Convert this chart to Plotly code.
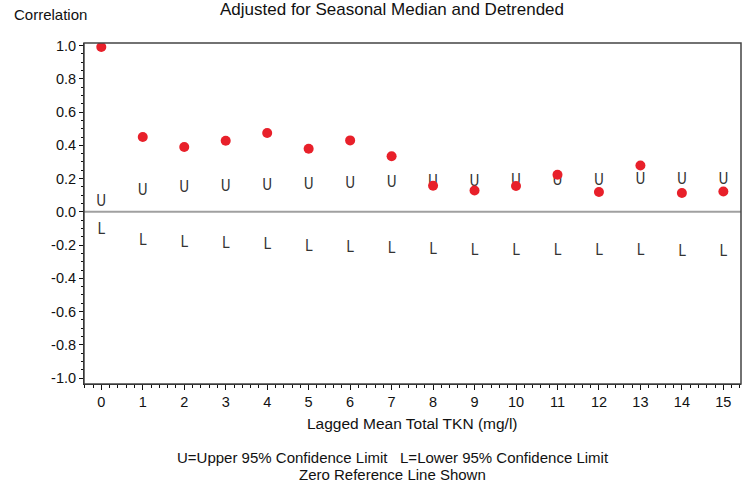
import plotly.graph_objects as go

lags = list(range(16))
correlation = [0.992, 0.45, 0.39, 0.428, 0.474, 0.38, 0.43, 0.335, 0.157, 0.128, 0.155, 0.223, 0.119, 0.279, 0.113, 0.122]
upper95 = [0.06, 0.126, 0.139, 0.145, 0.155, 0.161, 0.167, 0.173, 0.178, 0.181, 0.183, 0.185, 0.186, 0.188, 0.19, 0.193]
lower95 = [-0.113, -0.179, -0.187, -0.193, -0.2, -0.211, -0.219, -0.227, -0.233, -0.235, -0.237, -0.238, -0.239, -0.24, -0.243, -0.245]
y_ticks = [-1.0, -0.8, -0.6, -0.4, -0.2, 0.0, 0.2, 0.4, 0.6, 0.8, 1.0]
y_tick_labels = ["-1.0", "-0.8", "-0.6", "-0.4", "-0.2", "0.0", "0.2", "0.4", "0.6", "0.8", "1.0"]

FONT = "Liberation Sans, Arial, sans-serif"
GLYPH_FONT = "Liberation Sans Narrow, DejaVu Sans Condensed, Liberation Sans, sans-serif"

fig = go.Figure()

fig.add_trace(go.Scatter(
    x=lags, y=upper95, mode="text", text=["U"] * len(lags),
    textposition="middle center",
    textfont=dict(family=GLYPH_FONT, size=15, color="#333333"),
    hoverinfo="skip", showlegend=False,
))
fig.add_trace(go.Scatter(
    x=lags, y=lower95, mode="text", text=["L"] * len(lags),
    textposition="middle center",
    textfont=dict(family=GLYPH_FONT, size=15, color="#333333"),
    hoverinfo="skip", showlegend=False,
))
fig.add_trace(go.Scatter(
    x=lags, y=correlation, mode="markers",
    marker=dict(color="#e8202a", size=10, line=dict(width=0)),
    showlegend=False,
))

fig.add_hline(y=0, line=dict(color="#a0a0a0", width=2), layer="below")

fig.update_layout(
    width=751, height=485,
    margin=dict(l=84, r=10, t=43, b=101),
    paper_bgcolor="white", plot_bgcolor="white",
    font=dict(family=FONT, size=14.5, color="#111111"),
    xaxis=dict(
        range=[-0.417, 15.425], tickmode="array", tickvals=lags,
        ticktext=[str(v) for v in lags],
        ticks="outside", ticklen=5, tickwidth=1, tickcolor="#111111",
        showline=True, linecolor="#111111", linewidth=1, mirror=False,
        showgrid=False, zeroline=False,
        minor=dict(dtick=0.2, ticks="outside", ticklen=3, tickcolor="#111111", showgrid=False),
        tickfont=dict(size=14.5),
    ),
    yaxis=dict(
        range=[-1.036, 1.016], tickmode="array", tickvals=y_ticks, ticktext=y_tick_labels,
        ticks="outside", ticklen=4, tickwidth=1, tickcolor="#111111",
        showline=True, linecolor="#111111", linewidth=1, mirror=False,
        showgrid=False, zeroline=False,
        minor=dict(dtick=0.05, tick0=0, ticks="outside", ticklen=2, tickcolor="#111111", showgrid=False),
        tickfont=dict(size=14.5),
    ),
)

fig.add_shape(type="rect", xref="paper", yref="paper", x0=0, x1=1, y0=0, y1=1,
              line=dict(color="#444444", width=1.5), layer="above")

def ann(text, x, y, xanchor="center", size=15):
    fig.add_annotation(text=text, xref="paper", yref="paper", x=x, y=y,
                       xanchor=xanchor, yanchor="middle", showarrow=False,
                       font=dict(family=FONT, size=size, color="#111111"))

ann("Correlation", -0.1096, 1.085, xanchor="left", size=15)
ann("Adjusted for Seasonal Median and Detrended", 0.4688, 1.0968, size=17)
ann("Lagged Mean Total TKN (mg/l)", 0.5, -0.1173, size=15.5)
ann("U=Upper 95% Confidence Limit   L=Lower 95% Confidence Limit", 0.4703, -0.217, size=15)
ann("Zero Reference Line Shown", 0.4703, -0.264, size=15)

fig.write_html(
    "out.html",
    config={"displayModeBar": False},
    post_script="document.documentElement.style.margin='0';document.body.style.margin='0';document.body.style.overflow='hidden';",
)
